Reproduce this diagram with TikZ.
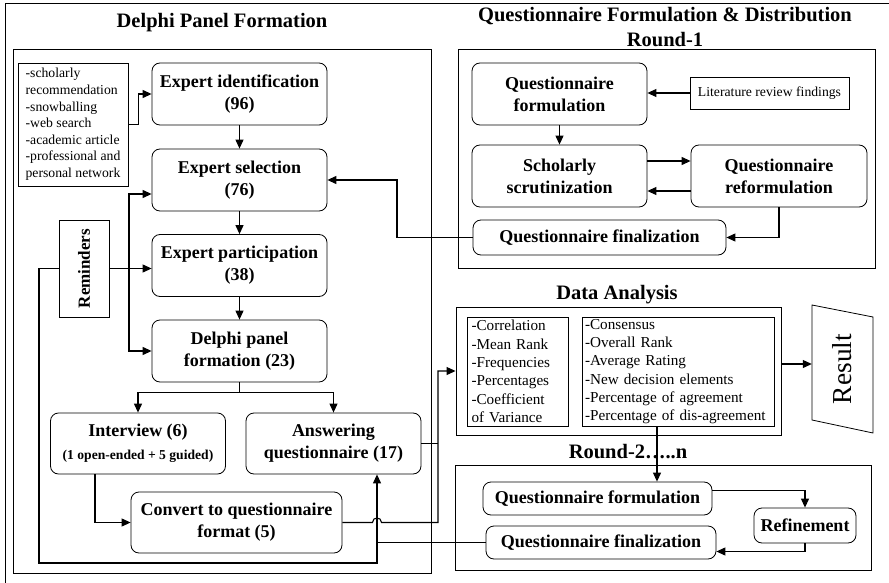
\documentclass[tikz,border=0pt]{standalone}
\usepackage{fontspec}
\usepackage{graphicx}
\setmainfont{Liberation Serif}
\usetikzlibrary{arrows.meta,calc}
\begin{document}
\begin{tikzpicture}[x=1pt,y=-1pt,
  rbox/.style={draw, rounded corners=8pt, line width=0.8pt, align=center, inner sep=0pt, font=\bfseries\fontsize{18}{22}\selectfont},
  pbox/.style={draw, line width=0.8pt, inner sep=0pt},
  frame/.style={draw, line width=0.9pt, inner sep=0pt},
  ttl/.style={font=\bfseries\fontsize{20.5}{25}\selectfont, align=center, inner sep=0pt},
  arr/.style={line width=1.1pt, -{Triangle[length=9pt,width=8pt]}},
  ln/.style={line width=1.1pt},
]
\useasboundingbox (0,0) rectangle (889,583);
\draw[line width=0.9pt] (889,3) -- (5,3) -- (5,583);

% ---------- Delphi panel formation ----------
\node[frame, minimum width=418pt, minimum height=524pt] (dframe) at (222,311) {};
\node[ttl] (dtitle) at (222,23) {Delphi Panel Formation};

\node[pbox, minimum width=110pt, minimum height=123pt, align=left, font=\fontsize{13.7}{16.6}\selectfont] (src) at (73,124.5)
  {-scholarly\\recommendation\\-snowballing\\-web search\\-academic article\\-professional and\\personal network};

\node[rbox, minimum width=175pt, minimum height=62pt] (ei) at (239.5,94) {Expert identification\\(96)};
\node[rbox, minimum width=175pt, minimum height=62pt] (es) at (239.5,180) {Expert selection\\(76)};
\node[rbox, minimum width=175pt, minimum height=62pt] (ep) at (239.5,265.5) {Expert participation\\(38)};
\node[rbox, minimum width=175pt, minimum height=62pt] (dp) at (239.5,351) {Delphi panel\\formation (23)};
\node[rbox, minimum width=175pt, minimum height=61pt] (iv) at (138,443.5) {Interview (6)\\[1pt]{\fontsize{13.6}{16}\selectfont (1 open-ended + 5 guided)}};
\node[rbox, minimum width=175pt, minimum height=61pt] (aq) at (333.5,443.5) {Answering\\questionnaire (17)};
\node[rbox, minimum width=211pt, minimum height=61pt] (cv) at (236.5,522.5) {Convert to questionnaire\\format (5)};

\node[pbox, minimum width=50pt, minimum height=97pt] (rem) at (84,268.5)
  {\rotatebox{90}{\bfseries\fontsize{17}{20}\selectfont Reminders}};

% connectors (Delphi)
\draw[arr] (src.east) -- ++(10,0) |- (ei.west);
\draw[arr] (ei.south) -- (es.north);
\draw[arr] (es.south) -- (ep.north);
\draw[arr] (ep.south) -- (dp.north);
\coordinate (br) at ($(dp.south)+(0,10)$);
\draw[ln] (dp.south) -- (br);
\draw[arr] (br) -| (iv.north);
\draw[arr] (br) -| (aq.north);

\coordinate (rv) at (129,268.5);
\coordinate (esw) at ($(es.west)+(0,14)$);
\draw[arr] (rem.east) -- (rem.east -| ep.west);
\draw[arr] (rv) |- (esw);
\draw[arr] (rv) |- (dp.west);

\coordinate (lx) at (39,563);
\coordinate (ax) at (377,563);
\draw[arr] (rem.west) -| (lx) -- (ax) -- (ax |- aq.south);

\coordinate (ivx) at ($(iv.south)+(-43,0)$);
\draw[arr] (ivx) |- (cv.west);

% ---------- Round 1 ----------
\node[frame, minimum width=417pt, minimum height=219pt] (r1frame) at (666.5,158.5) {};
\node[ttl] (r1title) at (665,27.5) {Questionnaire Formulation \& Distribution\\Round-1};

\node[rbox, minimum width=175pt, minimum height=62pt] (qf1) at (559.5,94) {Questionnaire\\formulation};
\node[pbox, minimum width=159pt, minimum height=32pt, font=\fontsize{13.7}{16}\selectfont] (lit) at (769.5,93) {Literature review findings};
\node[rbox, minimum width=175pt, minimum height=62pt] (ss) at (559.5,176) {Scholarly\\scrutinization};
\node[rbox, minimum width=176pt, minimum height=62pt] (qr) at (779,176) {Questionnaire\\reformulation};
\node[rbox, minimum width=253pt, minimum height=35pt] (qfin1) at (599.5,237.5) {Questionnaire finalization};

\draw[arr] (lit.west) -- (lit.west -| qf1.east);
\draw[arr] (qf1.south) -- (ss.north);
\coordinate (s1) at ($(ss.east)+(0,-15)$);
\coordinate (s2) at ($(qr.west)+(0,15)$);
\draw[arr] (s1) -- (s1 -| qr.west);
\draw[arr] (s2) -- (s2 -| ss.east);
\draw[arr] (qr.south) |- (qfin1.east);
\coordinate (fx) at (397,237.5);
\draw[arr] (qfin1.west) -- (fx) |- (es.east);

% ---------- Data analysis ----------
\node[ttl] (datitle) at (617,295) {Data Analysis};
\node[frame, minimum width=325pt, minimum height=128pt] (da) at (618.5,371) {};
\node[pbox, minimum height=109pt, text width=92pt, inner xsep=4.5pt, align=left, font=\fontsize{15.2}{18.3}\selectfont] (dal) at (517.5,371.5)
  {-Correlation\\-Mean Rank\\-Frequencies\\-Percentages\\-Coefficient\\of Variance};
\node[pbox, minimum height=109pt, text width=186pt, inner xsep=3pt, align=left, font=\fontsize{15.2}{18.3}\selectfont] (dar) at (678,371.5)
  {\hyphenpenalty=10000 -Consensus\\-Overall Rank\\-Average Rating\\-New decision elements\\-Percentage of agreement\\-Percentage of dis-agreement};

\node[inner sep=0pt, minimum width=61pt, minimum height=115pt] (res) at (842.5,369)
  {\rotatebox{90}{\fontsize{27.4}{30}\selectfont Result}};
\draw[line width=0.8pt] (812,305) -- (873,317) -- (873,433) -- (812,420) -- cycle;
\coordinate (dae) at ($(da.east)+(0,-7)$);
\draw[arr] (dae) -- (dae -| res.west);

% convert / answering -> data analysis
\coordinate (cx) at (438,0);
\coordinate (h1) at ($(ax |- cv.east)+(-4.5,0)$);
\coordinate (h2) at ($(ax |- cv.east)+(4.5,0)$);
\draw[arr] (cv.east) -- (h1) .. controls ($(h1)+(0,-6)$) and ($(h2)+(0,-6)$) .. (h2) -- (cx |- cv.east) |- (da.west);
\draw[ln] (aq.east) -- (aq.east -| cx);

% ---------- Round 2..n ----------
\node[ttl] (r2title) at (628,452) {Round-2…..n};
\node[frame, minimum width=416pt, minimum height=105pt] (r2frame) at (663,517.5) {};
\node[rbox, minimum width=229pt, minimum height=33pt] (qf2) at (597.5,498.5) {Questionnaire formulation};
\node[rbox, minimum width=102pt, minimum height=35pt] (ref) at (805,525.5) {Refinement};
\node[rbox, minimum width=230pt, minimum height=33pt] (qfin2) at (601,542.5) {Questionnaire finalization};

\coordinate (dx) at (657,0);
\draw[arr] (dx |- dar.south) -- (dx |- qf2.north);
\coordinate (q2e) at ($(qf2.east)+(0,-8)$);
\draw[arr] (q2e) -| (ref.north);
\coordinate (q2f) at ($(qfin2.east)+(0,9)$);
\draw[arr] (ref.south) |- (q2f);
\draw[ln] (qfin2.west) -- (qfin2.west -| ax);
\end{tikzpicture}
\end{document}
